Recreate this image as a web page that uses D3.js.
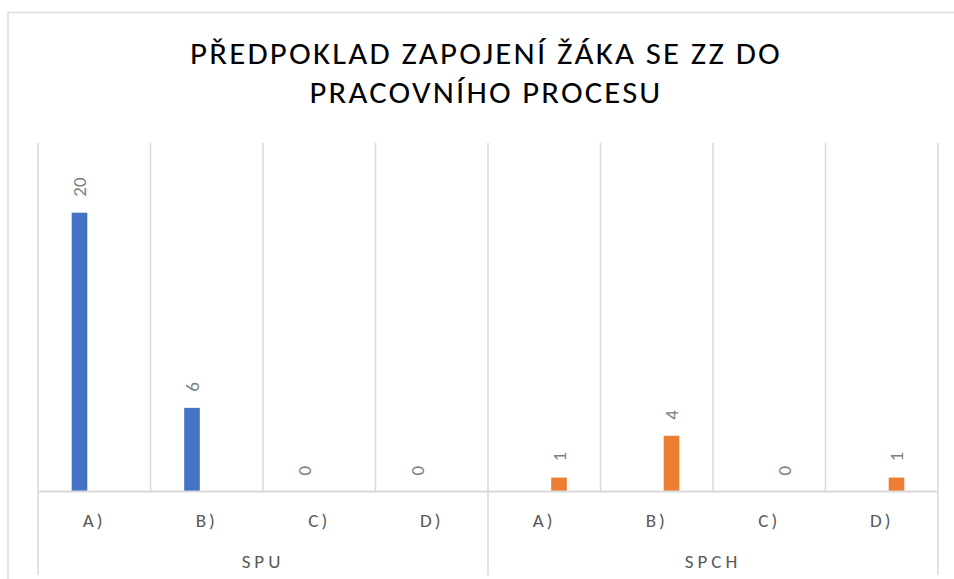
<!DOCTYPE html>
<html>
<head>
<meta charset="utf-8">
<script src="https://cdn.jsdelivr.net/npm/d3@7"></script>
<style>
  html, body { margin: 0; padding: 0; background: #fff; }
  svg { display: block; }
</style>
</head>
<body>
<svg id="chart" width="954" height="579"></svg>
<script>
// ---- data ----
const titleLines = ["PŘEDPOKLAD ZAPOJENÍ ŽÁKA SE ZZ DO", "PRACOVNÍHO PROCESU"];
const groups = ["SPU", "SPCH"];
const categories = ["A)", "B)", "C)", "D)"];
const seriesNames = ["SPU", "SPCH"];
const spuValues = [20, 6, 0, 0];
const spchValues = [1, 4, 0, 1];
const seriesColors = ["#4472C4", "#ED7D31"];
const yMax = 25;

// ---- build rows ----
const rows = [];
groups.forEach((g, gi) => {
  categories.forEach((c, ci) => {
    rows.push({
      key: g + "|" + c, group: g, cat: c,
      values: [gi === 0 ? spuValues[ci] : null, gi === 1 ? spchValues[ci] : null]
    });
  });
});

const svg = d3.select("#chart");
const plot = { left: 38, right: 938, top: 143, bottom: 491.5 };
const gridColor = "#d9d9d9";

// chart frame
svg.append("rect")
  .attr("x", 8).attr("y", 12.5)
  .attr("width", 960).attr("height", 600)
  .attr("fill", "#fff").attr("stroke", gridColor).attr("stroke-width", 1.3);

// title
const fontFamily = "Carlito, Lato, 'Open Sans', sans-serif";
const titleWidths = [592, 353];
const titleY = [64, 103];
titleLines.forEach((t, i) => {
  svg.append("text")
    .attr("x", 486).attr("y", titleY[i])
    .attr("text-anchor", "middle")
    .attr("font-family", fontFamily)
    .attr("font-size", 30)
    .attr("font-weight", 300)
    .attr("letter-spacing", 2)
    .attr("fill", "#000")
    .attr("textLength", titleWidths[i])
    .attr("lengthAdjust", "spacingAndGlyphs")
    .text(t);
});

// scales
const x = d3.scaleBand().domain(rows.map(r => r.key)).range([plot.left, plot.right]).padding(0);
const xInner = d3.scaleBand().domain(d3.range(seriesNames.length))
  .range([0, x.bandwidth()]).paddingInner(0.471).paddingOuter(1.142);
const y = d3.scaleLinear().domain([0, yMax]).range([plot.bottom, plot.top]);

// vertical gridlines at category boundaries
const boundaries = rows.map(r => x(r.key)).concat([plot.right]);
svg.append("g").selectAll("line").data(boundaries).join("line")
  .attr("x1", d => d).attr("x2", d => d)
  .attr("y1", plot.top).attr("y2", plot.bottom)
  .attr("stroke", gridColor).attr("stroke-width", 1.5);

// group separators extending below axis
const groupBounds = [x(rows[0].key), x(rows[categories.length].key), plot.right];
svg.append("g").selectAll("line").data(groupBounds).join("line")
  .attr("x1", d => d).attr("x2", d => d)
  .attr("y1", plot.bottom).attr("y2", 575)
  .attr("stroke", gridColor).attr("stroke-width", 1.5);

// bars
const barData = [];
rows.forEach(r => r.values.forEach((v, si) => {
  if (v !== null) barData.push({ key: r.key, si, v });
}));
svg.append("g").selectAll("rect").data(barData).join("rect")
  .attr("x", d => x(d.key) + xInner(d.si))
  .attr("width", xInner.bandwidth())
  .attr("y", d => y(d.v))
  .attr("height", d => y(0) - y(d.v))
  .attr("fill", d => seriesColors[d.si]);

// baseline
svg.append("line")
  .attr("x1", plot.left).attr("x2", plot.right)
  .attr("y1", plot.bottom).attr("y2", plot.bottom)
  .attr("stroke", gridColor).attr("stroke-width", 1.8);

// value labels (rotated)
svg.append("g").selectAll("text").data(barData).join("text")
  .attr("transform", d => {
    const cx = x(d.key) + xInner(d.si) + xInner.bandwidth() / 2;
    const cy = y(d.v) - 16;
    return `translate(${cx},${cy}) rotate(-90)`;
  })
  .attr("dy", "0.35em")
  .attr("text-anchor", "start")
  .attr("font-family", fontFamily)
  .attr("font-size", 19)
  .attr("fill", "#7f7f7f")
  .text(d => d.v);

// category labels
svg.append("g").selectAll("text").data(rows).join("text")
  .attr("x", d => x(d.key) + x.bandwidth() / 2)
  .attr("y", 527)
  .attr("text-anchor", "middle")
  .attr("font-family", fontFamily)
  .attr("font-size", 19)
  .attr("letter-spacing", 3)
  .attr("fill", "#595959")
  .text(d => d.cat);

// group labels
svg.append("g").selectAll("text").data(groups).join("text")
  .attr("x", (g, i) => (groupBounds[i] + groupBounds[i + 1]) / 2)
  .attr("y", 568)
  .attr("text-anchor", "middle")
  .attr("font-family", fontFamily)
  .attr("font-size", 19)
  .attr("letter-spacing", 4)
  .attr("fill", "#595959")
  .text(g => g);
</script>
</body>
</html>
